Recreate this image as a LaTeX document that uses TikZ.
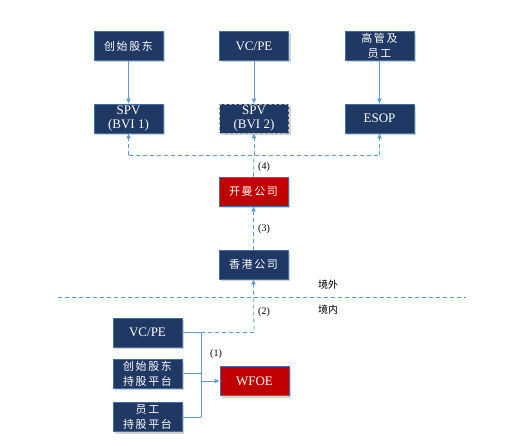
\documentclass[tikz,border=0pt]{standalone}
\usepackage{fontspec}
\setmainfont{Liberation Serif}
\newfontfamily\cjk{Noto Sans CJK SC}[LetterSpace=15]
\newfontfamily\cjksmall{Noto Sans CJK SC}
\usetikzlibrary{shadows,arrows.meta}
\definecolor{navy}{HTML}{1F3864}
\definecolor{boxred}{HTML}{C00000}
\definecolor{bord}{HTML}{41719C}
\definecolor{lnblue}{HTML}{5B9BD5}
\tikzset{
  box/.style={draw=bord, line width=0.8pt, fill=navy, text=white, minimum width=69pt, minimum height=29pt, inner sep=1pt, align=center, font=\fontsize{13}{14}\selectfont, drop shadow={shadow xshift=2pt, shadow yshift=-2pt, opacity=0.35, fill=gray}},
  redbox/.style={box, fill=boxred},
  cn/.style={font=\cjk\fontsize{11}{15}\selectfont},
  conn/.style={draw=lnblue, line width=0.8pt},
  dconn/.style={conn, dash pattern=on 4pt off 3pt},
  arr/.style={-{Latex[length=5pt,width=5pt]}},
  lbl/.style={font=\fontsize{10}{11}\selectfont, inner sep=0pt},
}
\begin{document}
\begin{tikzpicture}[x=1pt,y=-1pt]
\useasboundingbox (0,0) rectangle (508,446);
% top row
\node[box,cn] (f1) at (128.5,46) {创始股东};
\node[box] (vc1) at (254,46) {VC/PE};
\node[box,cn] (gg) at (379.5,46) {高管及\\员工};
% second row
\node[box] (spv1) at (128.5,118.5) {SPV\\(BVI 1)};
\node[box, draw=gray!70, dash pattern=on 3pt off 2pt] (spv2) at (254,118.5) {SPV\\(BVI 2)};
\node[box] (esop) at (379.5,118.5) {ESOP};
% middle
\node[redbox,cn] (km) at (253.5,191.5) {开曼公司};
\node[box,cn] (hk) at (253.5,264.5) {香港公司};
% bottom
\node[box] (vc2) at (147.5,332.5) {VC/PE};
\node[box,cn] (cs) at (147.5,373.5) {创始股东\\持股平台};
\node[box,cn] (yg) at (147.5,417) {员工\\持股平台};
\node[redbox] (wfoe) at (254.5,381) {WFOE};
% coordinates
\coordinate (c1) at (128.5,155);
\coordinate (c2) at (254,155);
\coordinate (c3) at (379.5,155);
\coordinate (bt) at (201,332.5);
\coordinate (bm) at (201,373.5);
\coordinate (bb) at (201,417);
\coordinate (ba) at (201,381);
\coordinate (hkc) at (254,332.5);
\coordinate (bl) at (58,297);
\coordinate (br) at (466,297);
% top solid arrows
\draw[conn,arr] (f1) -- (spv1);
\draw[conn,arr] (vc1) -- (spv2);
\draw[conn,arr] (gg) -- (esop);
% dashed distribution
\draw[dconn] (c1) -- (c3);
\draw[dconn,arr] (c1) -- (spv1.south);
\draw[dconn,arr] (c2) -- (spv2.south);
\draw[dconn,arr] (c3) -- (esop.south);
\draw[dconn] (km.north) -- (c2);
\draw[dconn,arr] (hk.north) -- (km.south);
% border line
\draw[dconn] (bl) -- (br);
% bottom
\draw[conn] (vc2.east) -- (bt);
\draw[conn] (cs.east) -- (bm);
\draw[conn] (yg.east) -- (bb);
\draw[conn] (bt) -- (bb);
\draw[conn,arr] (ba) -- (wfoe.west);
\draw[dconn,arr] (bt) -- (hkc) -- (hk.south);
% labels
\node[lbl] (l4) at (264,167) {(4)};
\node[lbl] (l3) at (264,229) {(3)};
\node[lbl] (l2) at (264,312) {(2)};
\node[lbl] (l1) at (216,354) {(1)};
\node[font=\cjksmall\fontsize{10}{11}\selectfont, inner sep=0pt] (jw) at (328,285) {境外};
\node[font=\cjksmall\fontsize{10}{11}\selectfont, inner sep=0pt] (jn) at (328,310) {境内};
\end{tikzpicture}
\end{document}
